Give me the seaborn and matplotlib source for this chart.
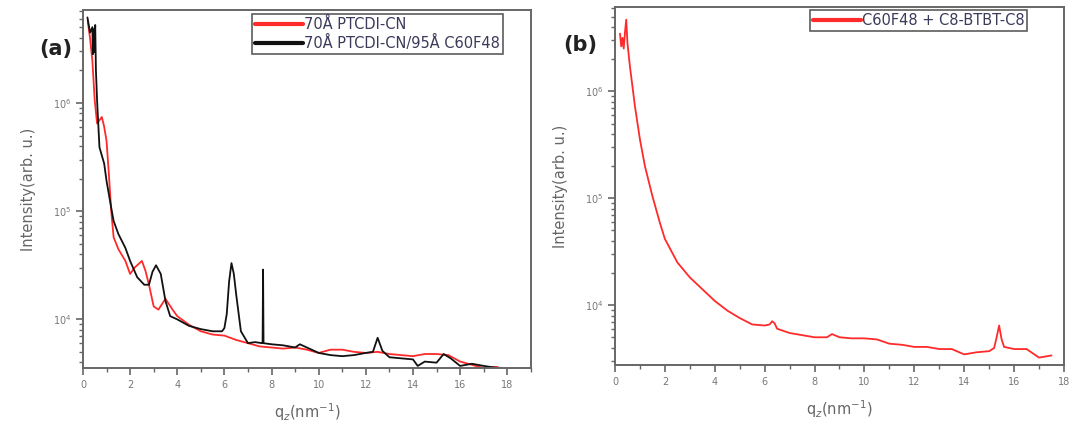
import numpy as np
import pandas as pd
import seaborn as sns
from matplotlib import pyplot as plt
from matplotlib.ticker import LogLocator, MultipleLocator, NullFormatter

# panel (a) -- 70A PTCDI-CN (red), values read as log10(intensity)
q_red_a = [0.2, 0.3, 0.4, 0.5, 0.6, 0.7, 0.8, 0.9, 1.0, 1.1, 1.2, 1.3, 1.5, 1.8, 2.0, 2.2,
           2.5, 2.65, 2.8, 3.0, 3.2, 3.5, 3.8, 4.0, 4.5, 5.0, 5.5, 6.0, 6.5, 7.0, 7.5, 8.0,
           8.5, 9.0, 9.5, 10.0, 10.5, 11.0, 11.5, 12.0, 12.5, 13.0, 13.5, 14.0, 14.5, 15.0,
           15.5, 16.0, 16.5, 17.0, 17.3, 17.6]
logi_red_a = [6.76, 6.6, 6.39, 6.02, 5.81, 5.84, 5.87, 5.78, 5.65, 5.34, 5.0, 4.76, 4.65,
              4.54, 4.42, 4.48, 4.54, 4.45, 4.32, 4.12, 4.09, 4.19, 4.09, 4.03, 3.95, 3.89,
              3.86, 3.85, 3.81, 3.78, 3.75, 3.74, 3.73, 3.74, 3.72, 3.69, 3.72, 3.72, 3.70,
              3.69, 3.70, 3.68, 3.67, 3.66, 3.68, 3.68, 3.67, 3.61, 3.58, 3.55, 3.56, 3.56]

# panel (a) -- 70A PTCDI-CN/95A C60F48 (black)
q_blk_a = [0.19, 0.3, 0.4, 0.42, 0.45, 0.48, 0.52, 0.55, 0.6, 0.7, 0.9, 1.0, 1.2, 1.3,
           1.5, 1.8, 2.0, 2.3, 2.6, 2.8, 2.95, 3.1, 3.3, 3.5, 3.7, 4.0, 4.5, 5.0, 5.5, 5.9,
           6.0, 6.1, 6.2, 6.3, 6.4, 6.5, 6.7, 7.0, 7.3, 7.6, 7.62, 7.64, 7.66, 8.0, 8.5,
           9.0, 9.2, 9.5, 10.0, 10.5, 11.0, 11.5, 12.0, 12.3, 12.5, 12.7, 13.0, 13.5,
           14.0, 14.2, 14.5, 15.0, 15.3, 15.6, 16.0, 16.5, 17.0, 17.6]
logi_blk_a = [6.79, 6.65, 6.7, 6.45, 6.68, 6.47, 6.72, 6.3, 6.02, 5.59, 5.44, 5.28, 5.03,
              4.91, 4.79, 4.66, 4.54, 4.39, 4.32, 4.32, 4.44, 4.50, 4.42, 4.17, 4.03, 4.0,
              3.94, 3.91, 3.89, 3.89, 3.92, 4.05, 4.35, 4.52, 4.42, 4.23, 3.89, 3.78, 3.79,
              3.78, 3.78, 4.46, 3.78, 3.77, 3.76, 3.74, 3.77, 3.74, 3.69, 3.67, 3.66, 3.67,
              3.69, 3.70, 3.83, 3.71, 3.65, 3.64, 3.63, 3.57, 3.61, 3.60, 3.68, 3.64, 3.57,
              3.59, 3.57, 3.55]

# panel (b) -- C60F48 + C8-BTBT-C8 (red)
q_b = [0.2, 0.25, 0.3, 0.35, 0.4, 0.45, 0.5, 0.6, 0.8, 1.0, 1.2, 1.5, 1.8, 2.0, 2.5, 3.0,
       3.5, 4.0, 4.5, 5.0, 5.5, 6.0, 6.2, 6.3, 6.4, 6.5, 7.0, 7.5, 8.0, 8.5, 8.7, 9.0,
       9.5, 10.0, 10.5, 11.0, 11.5, 12.0, 12.5, 13.0, 13.5, 14.0, 14.5, 15.0, 15.2,
       15.3, 15.4, 15.5, 15.6, 16.0, 16.5, 17.0, 17.5]
logi_b = [6.54, 6.42, 6.5, 6.4, 6.55, 6.67, 6.45, 6.23, 5.86, 5.55, 5.30, 5.02, 4.77, 4.62,
          4.40, 4.26, 4.15, 4.04, 3.95, 3.88, 3.82, 3.81, 3.82, 3.85, 3.83, 3.78, 3.74,
          3.72, 3.70, 3.70, 3.73, 3.70, 3.69, 3.69, 3.68, 3.64, 3.63, 3.61, 3.61, 3.59,
          3.59, 3.54, 3.56, 3.57, 3.60, 3.70, 3.81, 3.68, 3.61, 3.59, 3.59, 3.51, 3.53]

lab_red_a = "70Å PTCDI-CN"
lab_blk_a = "70Å PTCDI-CN/95Å C60F48"
lab_b = "C60F48 + C8-BTBT-C8"

sns.set_style("ticks")
plt.rcParams['font.family'] = ['DejaVu Sans']

fig = plt.figure(figsize=(10.69, 4.28), dpi=100)
ax_a = fig.add_axes([0.0776, 0.140, 0.419, 0.837])
ax_b = fig.add_axes([0.5753, 0.147, 0.420, 0.837])

df_a = pd.concat([
    pd.DataFrame({"q": q_red_a, "I": np.power(10.0, logi_red_a), "s": lab_red_a}),
    pd.DataFrame({"q": q_blk_a, "I": np.power(10.0, logi_blk_a), "s": lab_blk_a}),
])
df_b = pd.DataFrame({"q": q_b, "I": np.power(10.0, logi_b), "s": lab_b})

sns.lineplot(data=df_a, x="q", y="I", hue="s", sort=False, estimator=None,
             palette={lab_red_a: "#ff2a2a", lab_blk_a: "#111111"}, lw=1.3, ax=ax_a)
sns.lineplot(data=df_b, x="q", y="I", hue="s", sort=False, estimator=None,
             palette={lab_b: "#ff2a2a"}, lw=1.3, ax=ax_b)

grey = "#666666"
panels = [(ax_a, (10**3.55, 10**6.86), (0, 19), (0.9375, 0.989)),
          (ax_b, (10**3.44, 10**6.79), (0, 18), (0.918, 0.992))]
for ax, ylim, xlim, anchor in panels:
    ax.set_yscale("log")
    ax.set_xlim(*xlim)
    ax.set_ylim(*ylim)
    ax.xaxis.set_major_locator(MultipleLocator(2))
    ax.xaxis.set_minor_locator(MultipleLocator(1))
    ax.yaxis.set_major_locator(LogLocator(base=10))
    ax.yaxis.set_minor_locator(LogLocator(base=10, subs=np.arange(2, 10)))
    ax.yaxis.set_minor_formatter(NullFormatter())
    for sp in ax.spines.values():
        sp.set_color(grey)
        sp.set_linewidth(1.4)
    ax.tick_params(which="major", direction="out", length=5, width=1.2, colors=grey,
                   labelsize=7, labelcolor="#777777")
    ax.tick_params(which="minor", direction="out", length=3, width=1.0, colors=grey)
    ax.set_xlabel("q$_z$(nm$^{-1}$)", fontsize=10.5, color="#666666", labelpad=8)
    ax.set_ylabel("Intensity(arb. u.)", fontsize=10.5, color="#666666", labelpad=12)
    leg = ax.legend(loc="upper right", bbox_to_anchor=anchor, frameon=True,
                    fancybox=False, fontsize=10.5, handlelength=3.3, handletextpad=0.05,
                    borderpad=0.2, labelspacing=0.2, borderaxespad=0.0)
    leg.get_frame().set_edgecolor("#333333")
    leg.get_frame().set_linewidth(1.2)
    for t in leg.get_texts():
        t.set_color("#3a3a5a")
    for h in leg.get_lines():
        h.set_linewidth(3)

fig.text(0.037, 0.885, "(a)", fontsize=15, fontweight="bold", color="#222222",
         ha="left", va="center")
fig.text(0.527, 0.895, "(b)", fontsize=15, fontweight="bold", color="#222222",
         ha="left", va="center")

fig.savefig("out.png", dpi=100)
